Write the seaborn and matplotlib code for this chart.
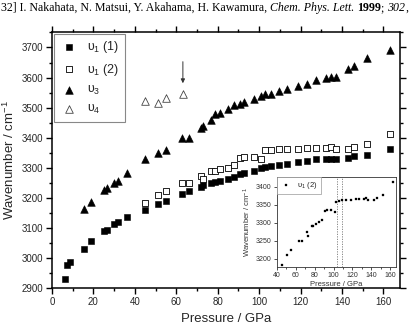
import matplotlib
matplotlib.use("Agg")
import matplotlib.pyplot as plt
from matplotlib.ticker import MultipleLocator
import seaborn as sns

# ---------------- data ----------------
p_v1a = [6.2, 7.4, 8.6, 15.4, 18.9, 25.2, 26.7, 30.2, 31.9, 36.3, 45.0, 51.1, 55.0,
         63.0, 66.2, 71.8, 72.8, 76.7, 78.6, 81.2, 85.1, 88.0, 90.9, 92.9, 97.4,
         101.0, 102.9, 105.8, 109.4, 113.6, 118.8, 123.3, 127.2, 132.4, 134.6,
         136.9, 142.7, 146.0, 151.9, 163.3]
w_v1a = [2932, 2979, 2989, 3032, 3056, 3089, 3094, 3112, 3119, 3136, 3160, 3180, 3190,
         3212, 3222, 3238, 3242, 3249, 3253, 3258, 3263, 3271, 3280, 3284, 3290,
         3298, 3302, 3307, 3310, 3313, 3318, 3324, 3329, 3331, 3331,
         3331, 3334, 3338, 3342, 3363]

p_v1b = [45.0, 51.1, 55.0, 63.0, 66.2, 71.8, 72.8, 76.7, 78.6, 81.2, 85.1, 88.0, 90.9,
         92.9, 97.4, 101.0, 102.9, 105.8, 109.4, 113.6, 118.8, 123.3, 127.2, 132.4,
         134.6, 136.9, 142.7, 146.0, 151.9, 163.3]
w_v1b = [3182, 3211, 3224, 3249, 3249, 3274, 3263, 3290, 3291, 3297, 3301, 3308, 3332,
         3336, 3336, 3329, 3358, 3360, 3363, 3363, 3363, 3366, 3366, 3366,
         3368, 3363, 3364, 3368, 3378, 3413]

p_v3 = [15.4, 18.9, 25.2, 26.7, 30.2, 31.9, 36.3, 45.0, 51.1, 55.0, 63.0, 66.2, 71.8,
        72.8, 76.7, 78.6, 81.2, 85.1, 88.0, 90.9, 92.9, 97.4, 101.0, 102.9, 105.8,
        109.4, 113.6, 118.8, 123.3, 127.2, 132.4, 134.6, 136.9, 142.7, 146.0, 151.9,
        163.3]
w_v3 = [3164, 3187, 3227, 3232, 3251, 3258, 3284, 3330, 3351, 3360, 3399, 3399, 3432,
        3440, 3460, 3480, 3484, 3497, 3510, 3511, 3518, 3529, 3540, 3544, 3544,
        3554, 3562, 3573, 3580, 3591, 3600, 3601, 3601, 3630, 3637, 3664,
        3691]

p_v4 = [45.0, 51.1, 55.0, 63.2]
w_v4 = [3521, 3516, 3531, 3547]

labels = ["υ$_1$ (1)", "υ$_1$ (2)", "υ$_3$", "υ$_4$"]
inset_label = "υ$_1$ (2)"
transition_p = [103.6, 108.5]

cite_parts = [("32] I. Nakahata, N. Matsui, Y. Akahama, H. Kawamura, ", "normal", "normal"),
              ("Chem. Phys. Lett.", "italic", "normal"),
              (" ", "normal", "normal"),
              ("1999", "normal", "bold"),
              ("; ", "normal", "normal"),
              ("302", "italic", "normal"),
              (",", "normal", "normal")]

# ---------------- style ----------------
sns.set_style("ticks")
plt.rcParams["font.family"] = ["Liberation Sans", "DejaVu Sans"]
plt.rcParams["mathtext.fontset"] = "custom"
plt.rcParams["mathtext.rm"] = "Liberation Sans"
plt.rcParams["mathtext.it"] = "Liberation Sans:italic"
plt.rcParams["mathtext.bf"] = "Liberation Sans:bold"

fig = plt.figure(figsize=(4.12, 3.31), dpi=100)
ax = fig.add_axes([0.126, 0.129, 0.845, 0.773])

sns.scatterplot(x=p_v1a, y=w_v1a, marker="s", s=17, color="black", edgecolor="black",
                linewidth=0.4, ax=ax, label=labels[0], zorder=3)
sns.scatterplot(x=p_v1b, y=w_v1b, marker="s", s=17, color="white", edgecolor="black",
                linewidth=0.6, ax=ax, label=labels[1], zorder=3)
sns.scatterplot(x=p_v3, y=w_v3, marker="^", s=30, color="black", edgecolor="black",
                linewidth=0.4, ax=ax, label=labels[2], zorder=3)
sns.scatterplot(x=p_v4, y=w_v4, marker="^", s=30, color="white", edgecolor="#444444",
                linewidth=0.6, ax=ax, label=labels[3], zorder=3)

ax.set_xlim(0, 168)
ax.set_ylim(2900, 3750)
ax.xaxis.set_major_locator(MultipleLocator(20))
ax.xaxis.set_minor_locator(MultipleLocator(10))
ax.yaxis.set_major_locator(MultipleLocator(100))
ax.yaxis.set_minor_locator(MultipleLocator(50))
ax.tick_params(which="both", direction="out", top=True, right=True,
               labeltop=False, labelright=False, color="black", width=1.0)
ax.tick_params(which="major", length=4.5, labelsize=7, pad=2)
ax.tick_params(which="minor", length=2.5)
for sp in ax.spines.values():
    sp.set_visible(True)
    sp.set_linewidth(1.1)
    sp.set_color("black")
ax.set_xlabel("Pressure / GPa", fontsize=9.5, labelpad=4)
ax.set_ylabel("Wavenumber / cm$^{-1}$", fontsize=9.5, labelpad=3)

leg = ax.legend(loc="upper left", bbox_to_anchor=(0.006, 0.995), fontsize=9,
                frameon=True, fancybox=False, edgecolor="#888888", framealpha=1,
                labelspacing=0.5, handletextpad=0.7, borderpad=0.45,
                handlelength=1.5, borderaxespad=0)
leg.get_frame().set_linewidth(0.8)

ax.annotate("", xy=(p_v4[-1], 3572), xytext=(p_v4[-1], 3662),
            arrowprops=dict(arrowstyle="-|>", color="#333333", lw=0.7,
                            mutation_scale=6))

# ---------------- inset ----------------
axin = fig.add_axes([0.672, 0.194, 0.289, 0.271])
sns.scatterplot(x=p_v1b, y=w_v1b, marker="s", s=3, color="black", edgecolor="black",
                linewidth=0.2, ax=axin, label=inset_label, zorder=3)
for tp in transition_p:
    axin.axvline(tp, color="#777777", lw=0.6, ls=(0, (1.5, 1.5)))
axin.set_xlim(40, 166)
axin.set_ylim(3177, 3427)
axin.xaxis.set_major_locator(MultipleLocator(20))
axin.xaxis.set_minor_locator(MultipleLocator(10))
axin.yaxis.set_major_locator(MultipleLocator(50))
axin.tick_params(which="both", direction="out", color="#333333", width=0.6)
axin.tick_params(which="major", length=2.5, labelsize=5, pad=1.5, labelcolor="#333333")
axin.tick_params(which="minor", length=1.5)
for sp in axin.spines.values():
    sp.set_linewidth(0.6)
    sp.set_color("#333333")
axin.set_xlabel("Pressure / GPa", fontsize=5.5, labelpad=1, color="#333333")
axin.set_ylabel("Wavenumber / cm$^{-1}$", fontsize=5.5, labelpad=1.5, color="#333333")
lg2 = axin.legend(loc="upper left", bbox_to_anchor=(0, 1), fontsize=5.5, frameon=True,
                  fancybox=False, edgecolor="#999999", framealpha=1, borderaxespad=0,
                  handletextpad=0.8, borderpad=0.4, handlelength=1.5)
lg2.get_frame().set_linewidth(0.5)

# ---------------- citation header ----------------
fig.canvas.draw()
renderer = fig.canvas.get_renderer()
xpos = 1.0
for txt, style, weight in cite_parts:
    t = fig.text(xpos / 412, 1 - 11 / 331, txt, fontsize=8.6, family="Liberation Serif",
                 style=style, weight=weight, ha="left", va="baseline", color="black")
    bb = t.get_window_extent(renderer)
    xpos = bb.x1

fig.savefig("out.png", dpi=100)
